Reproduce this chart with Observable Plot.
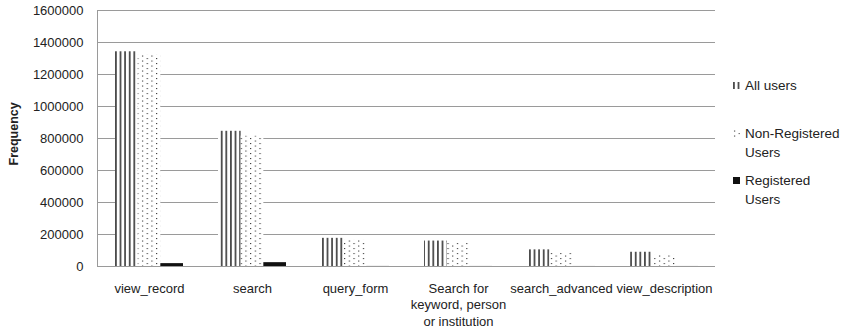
<!DOCTYPE html>
<html>
<head>
<meta charset="utf-8">
<script src="https://cdn.jsdelivr.net/npm/d3@7"></script>
<script src="https://cdn.jsdelivr.net/npm/@observablehq/plot@0.6"></script>
<style>
  html, body { margin: 0; padding: 0; background: #fff; }
  #wrap { position: relative; width: 852px; height: 333px; font-family: "Liberation Sans", Arial, sans-serif; color: #222; }
  .leg { position: absolute; left: 733px; font-size: 13.5px; line-height: 19px; white-space: pre; display: flex; align-items: flex-start; }
  .leg svg { margin-top: 6px; margin-right: 5px; flex: none; }
</style>
</head>
<body>
<div id="wrap"></div>
<script>
const categories = ["view_record", "search", "query_form", "Search for keyword, person or institution", "search_advanced", "view_description"];
const tickLabels = ["view_record", "search", "query_form", "Search for\nkeyword, person\nor institution", "search_advanced", "view_description"];
const series = ["All users", "Non-Registered Users", "Registered Users"];
const legendLabels = ["All users", "Non-Registered\nUsers", "Registered\nUsers"];
const allUsers = [1342000, 845000, 176000, 159000, 104000, 89000];
const nonRegistered = [1322000, 815000, 164000, 149000, 84000, 70000];
const registered = [18000, 24000, 400, 300, 200, 200];
const yTicks = [0, 200000, 400000, 600000, 800000, 1000000, 1200000, 1400000, 1600000];

const values = [allUsers, nonRegistered, registered];
const rows = [];
series.forEach((s, i) => categories.forEach((c, j) => rows.push({category: c, series: s, value: values[i][j]})));

const W = 852, H = 333, mL = 97, mR = 137, mT = 10, mB = 67;
const padIn = 0.34, padOut = 0.17;
const step = (W - mL - mR) / categories.length;
const bw = step * (1 - padIn);
const patIds = ["patAll", "patNon", "patReg"];

const marks = [
  Plot.gridY(yTicks, {stroke: "#9a9a9a", strokeOpacity: 1}),
  ...series.map((s, i) => Plot.barY(rows.filter(r => r.series === s), {
    x: "category", y: "value", fill: `url(#${patIds[i]})`,
    insetLeft: i * bw / 3, insetRight: (2 - i) * bw / 3
  })),
  Plot.ruleY([0], {stroke: "#9a9a9a"}),
  Plot.frame({anchor: "left", stroke: "#9a9a9a"}),
  Plot.axisY(yTicks, {tickSize: 0, tickPadding: 14, tickFormat: d => String(d), fontSize: 13, label: null}),
  Plot.axisX({tickSize: 0, tickPadding: 14, tickFormat: d => tickLabels[categories.indexOf(d)], fontSize: 13, lineHeight: 1.3, label: null}),
  Plot.text(["Frequency"], {frameAnchor: "left", dx: -84, dy: 27, rotate: -90, fontWeight: "bold", fontSize: 12.5})
];

const chart = Plot.plot({
  width: W, height: H,
  marginLeft: mL, marginRight: mR, marginTop: mT, marginBottom: mB,
  style: {fontFamily: "Liberation Sans, Arial, sans-serif", fontSize: "13px", color: "#222", background: "#fff"},
  x: {type: "band", domain: categories, paddingInner: padIn, paddingOuter: padOut, label: null},
  y: {domain: [0, 1600000], label: null},
  marks
});

// pattern definitions (styling)
const svg = d3.select(chart);
const defs = svg.insert("defs", ":first-child");
const pA = defs.append("pattern").attr("id", "patAll").attr("patternUnits", "userSpaceOnUse").attr("width", 4.6).attr("height", 10);
pA.append("rect").attr("width", 4.6).attr("height", 10).attr("fill", "#fff");
pA.append("rect").attr("x", 0.2).attr("width", 1.4).attr("height", 10).attr("fill", "#1a1a1a");
const pN = defs.append("pattern").attr("id", "patNon").attr("patternUnits", "userSpaceOnUse").attr("width", 9.4).attr("height", 5);
pN.append("rect").attr("width", 9.4).attr("height", 5).attr("fill", "#fff");
pN.append("rect").attr("x", 1).attr("y", 0.5).attr("width", 1.1).attr("height", 1.1).attr("fill", "#333");
pN.append("rect").attr("x", 5.7).attr("y", 3).attr("width", 1.1).attr("height", 1.1).attr("fill", "#333");
const pR = defs.append("pattern").attr("id", "patReg").attr("patternUnits", "userSpaceOnUse").attr("width", 4).attr("height", 4);
pR.append("rect").attr("width", 4).attr("height", 4).attr("fill", "#111");

const wrap = document.getElementById("wrap");
wrap.appendChild(chart);

// legend
const legTops = [76, 124, 171];
series.forEach((s, i) => {
  const d = document.createElement("div");
  d.className = "leg";
  d.style.top = legTops[i] + "px";
  const sw = d3.create("svg").attr("width", 7).attr("height", 7);
  sw.append("rect").attr("width", 7).attr("height", 7).attr("fill", `url(#${patIds[i]})`);
  d.appendChild(sw.node());
  const t = document.createElement("span");
  t.textContent = legendLabels[i];
  d.appendChild(t);
  wrap.appendChild(d);
});
</script>
</body>
</html>
